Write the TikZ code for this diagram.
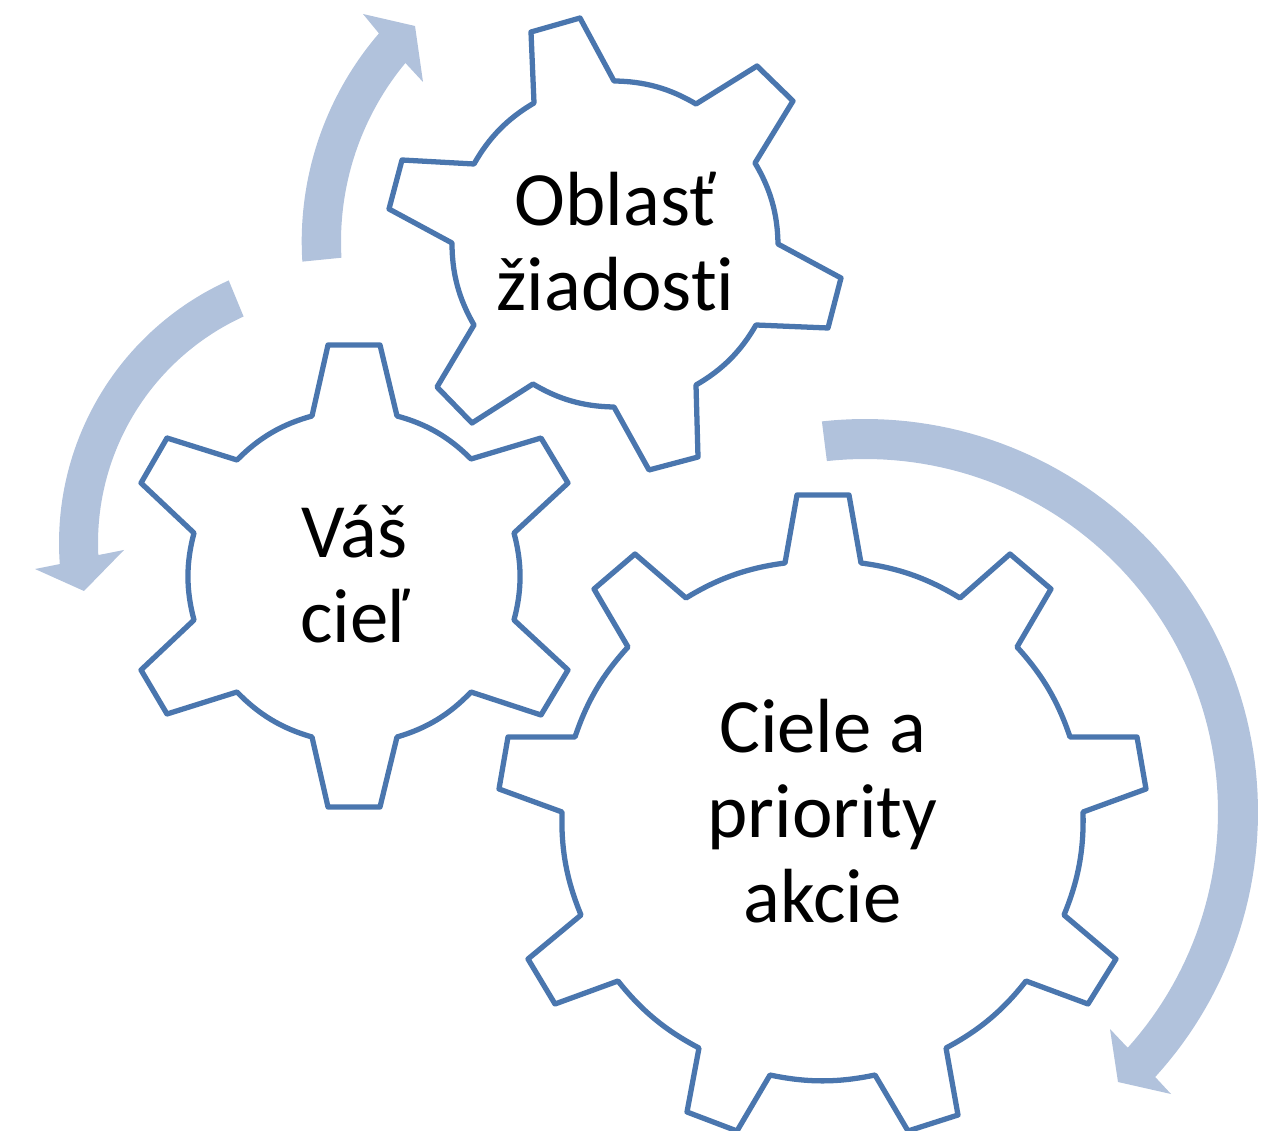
\documentclass[tikz,border=0pt]{standalone}
\usepackage{fontspec}
\setmainfont{Carlito}[Ligatures=NoCommon]
\definecolor{gearline}{HTML}{4A76AE}
\definecolor{arrowfill}{HTML}{B1C2DC}
\tikzset{
  gear/.style={draw=gearline,line width=3pt,fill=white,line join=round},
  cyc/.style={fill=arrowfill,draw=none},
  lab/.style={align=center,font=\fontsize{43.7}{48.2}\selectfont,inner sep=0pt,text=black},
  a15/.style={bend left=15,looseness=0.92},
  a12/.style={bend left=12,looseness=0.92}
}
\begin{document}
\begin{tikzpicture}[x=0.02cm,y=-0.02cm]
\useasboundingbox (0,0) rectangle (1272,1131);
% circular arrows
\fill[cyc] plot[domain=176.4:220.7,samples=40] ({621+319.3*cos(\x)},{241.6+319.3*sin(\x)}) -- (363,14) -- (415,26) -- (423,82) -- (405.7,63.3)
  -- plot[domain=219.6:176.7,samples=40] ({621+280*cos(\x)},{241.6+280*sin(\x)}) -- cycle;
\fill[cyc] plot[domain=245.75:175.8,samples=50] ({347+288*cos(\x)},{543+288*sin(\x)}) -- (35,569) -- (84,591) -- (124,550) -- (98.7,555)
  -- plot[domain=177.2:245.46,samples=50] ({347+249*cos(\x)},{543+249*sin(\x)}) -- cycle;
\fill[cyc] plot[domain=-96.3:42.4,samples=90] ({865+393*cos(\x)},{812+393*sin(\x)}) -- (1171,1094) -- (1118,1082) -- (1110,1029) -- (1127,1047)
  -- plot[domain=41.9:-96.2,samples=90] ({865+353*cos(\x)},{812+353*sin(\x)}) -- cycle;
% gears
\draw[gear] (534,103)--(531,32)--(580,18)--(614,81) to[a15] (696,104)--(757,66)--(793,101)--(755,163) to[a15] (778,244)--(841,278)--(828,328)--(756,325) to[a15] (696,385)--(698,457)--(649,470)--(614,407) to[a15] (533,384)--(472,423)--(437,387)--(474,325) to[a15] (452,243)--(389,209)--(402,160)--(474,164) to[a15] cycle;
\draw[gear] (312,416)--(328,345)--(380,345)--(397,416) to[a15] (471,459)--(541,438)--(568,483)--(514,533) to[a15] (514,620)--(568,670)--(541,715)--(471,692) to[a15] (397,737)--(380,807)--(328,807)--(312,737) to[a15] (237,692)--(167,714)--(141,670)--(194,620) to[a15] (194,533)--(141,483)--(167,438)--(237,460) to[a15] cycle;
\draw[gear] (785,563)--(797,495)--(849,495)--(861,563) to[a12] (960,598)--(1010,554)--(1051,589)--(1017,647) to[a12] (1070,737)--(1137,737)--(1146,789)--(1083,812) to[a12] (1064,915)--(1116,959)--(1088,1004)--(1026,981) to[a12] (946,1048)--(958,1115)--(908,1131)--(875,1075) to[a12] (770,1075)--(737,1131)--(687,1112)--(699,1048) to[a12] (618,981)--(555,1004)--(528,959)--(581,915) to[a12] (562,812)--(499,789)--(508,737)--(575,737) to[a12] (628,647)--(594,589)--(635,554)--(686,598) to[a12] cycle;
% labels
\node[lab] (oblast) at (615.5,241.5) {Oblasť\\žiadosti};
\node[lab] (ciel) at (354.5,574) {Váš\\cieľ};
\node[lab] (priority) at (822.5,811) {Ciele a\\priority\\akcie};
\end{tikzpicture}
\end{document}
